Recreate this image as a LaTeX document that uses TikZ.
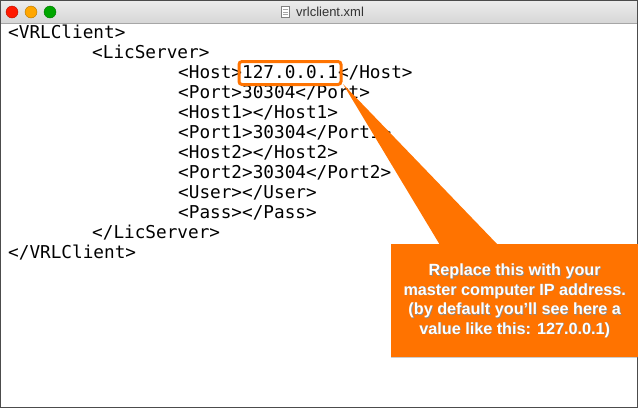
\documentclass[tikz,border=0pt]{standalone}
\usepackage{fontspec}
\setmainfont[Ligatures=NoCommon]{Liberation Sans}
\newfontfamily\codefont{DejaVu Sans Mono}
\usetikzlibrary{shadows,positioning}
\definecolor{callorange}{HTML}{FF7300}
\definecolor{barA}{HTML}{EDEDED}
\definecolor{barB}{HTML}{D6D6D6}
\tikzset{
  codeline/.style={anchor=base west,inner sep=0pt,font=\codefont\fontsize{17.7}{20}\selectfont},
  light/.style={circle,minimum size=12pt,inner sep=0pt,draw=#1!70!black,fill=#1},
  calltext/.style={align=center,font=\bfseries\fontsize{16.2}{19.5}\selectfont},
}
\begin{document}
\begin{tikzpicture}[x=1pt,y=-1pt]
\useasboundingbox (0,0) rectangle (638,408);
\fill[white] (0,0) rectangle (638,408);
\shade[top color=barA,bottom color=barB] (0,0) rectangle (638,23);
\draw[gray!70] (0,23) -- (638,23);
\draw[gray!60!black] (0.5,0.5) rectangle (637.5,407.5);
\node[light={red!80!orange}] (r) at (12,12) {};
\node[light={orange!70!yellow}] (y) at (31,12) {};
\node[light={green!65!black}] (g) at (50,12) {};
\node[font=\fontsize{13}{15}\selectfont,text=black!80] (title) at (330,12) {vrlclient.xml};
\node[draw=gray,fill=white,minimum width=8pt,minimum height=11pt,inner sep=0pt,left=3pt of title] (icon) {};
\foreach \k in {-2.5,0,2.5}{\draw[gray!70] ([xshift=-2.5pt,yshift=\k pt]icon.center) -- ([xshift=2.5pt,yshift=\k pt]icon.center);}
\node[codeline] (l1) at (8,38) {<VRLClient>};
\node[codeline] (l2) at (92,58) {<LicServer>};
\node[codeline] (l3) at (178,78) {<Host>127.0.0.1</Host>};
\node[codeline] (l4) at (178,98) {<Port>30304</Port>};
\node[codeline] (l5) at (178,118) {<Host1></Host1>};
\node[codeline] (l6) at (178,138) {<Port1>30304</Port1>};
\node[codeline] (l7) at (178,158) {<Host2></Host2>};
\node[codeline] (l8) at (178,178) {<Port2>30304</Port2>};
\node[codeline] (l9) at (178,198) {<User></User>};
\node[codeline] (l10) at (178,218) {<Pass></Pass>};
\node[codeline] (l11) at (92,238) {</LicServer>};
\node[codeline] (l12) at (8,258) {</VRLClient>};
\coordinate (tip) at (343,84);
\fill[callorange] (tip) -- (440,245) -- (498,245) -- cycle;
\node[draw=callorange,line width=3pt,rounded corners=3pt,minimum width=102pt,minimum height=23pt] (hl) at (290,73) {};
\node[fill=callorange,minimum width=247pt,minimum height=113pt,inner sep=0pt,anchor=north west,
  drop shadow={shadow xshift=0pt,shadow yshift=-1pt,opacity=0.4}] (box) at (391,244) {};
\node[calltext,text=black!45] at ([xshift=0.8pt,yshift=-0.8pt]box.center)
  {Replace this with your\\master computer IP address.\\(by default you\char39 ll see here a\\value like this: 127.0.0.1)};
\node[calltext,text=white] (txt) at (box.center)
  {Replace this with your\\master computer IP address.\\(by default you\char39 ll see here a\\value like this: 127.0.0.1)};
\end{tikzpicture}
\end{document}
